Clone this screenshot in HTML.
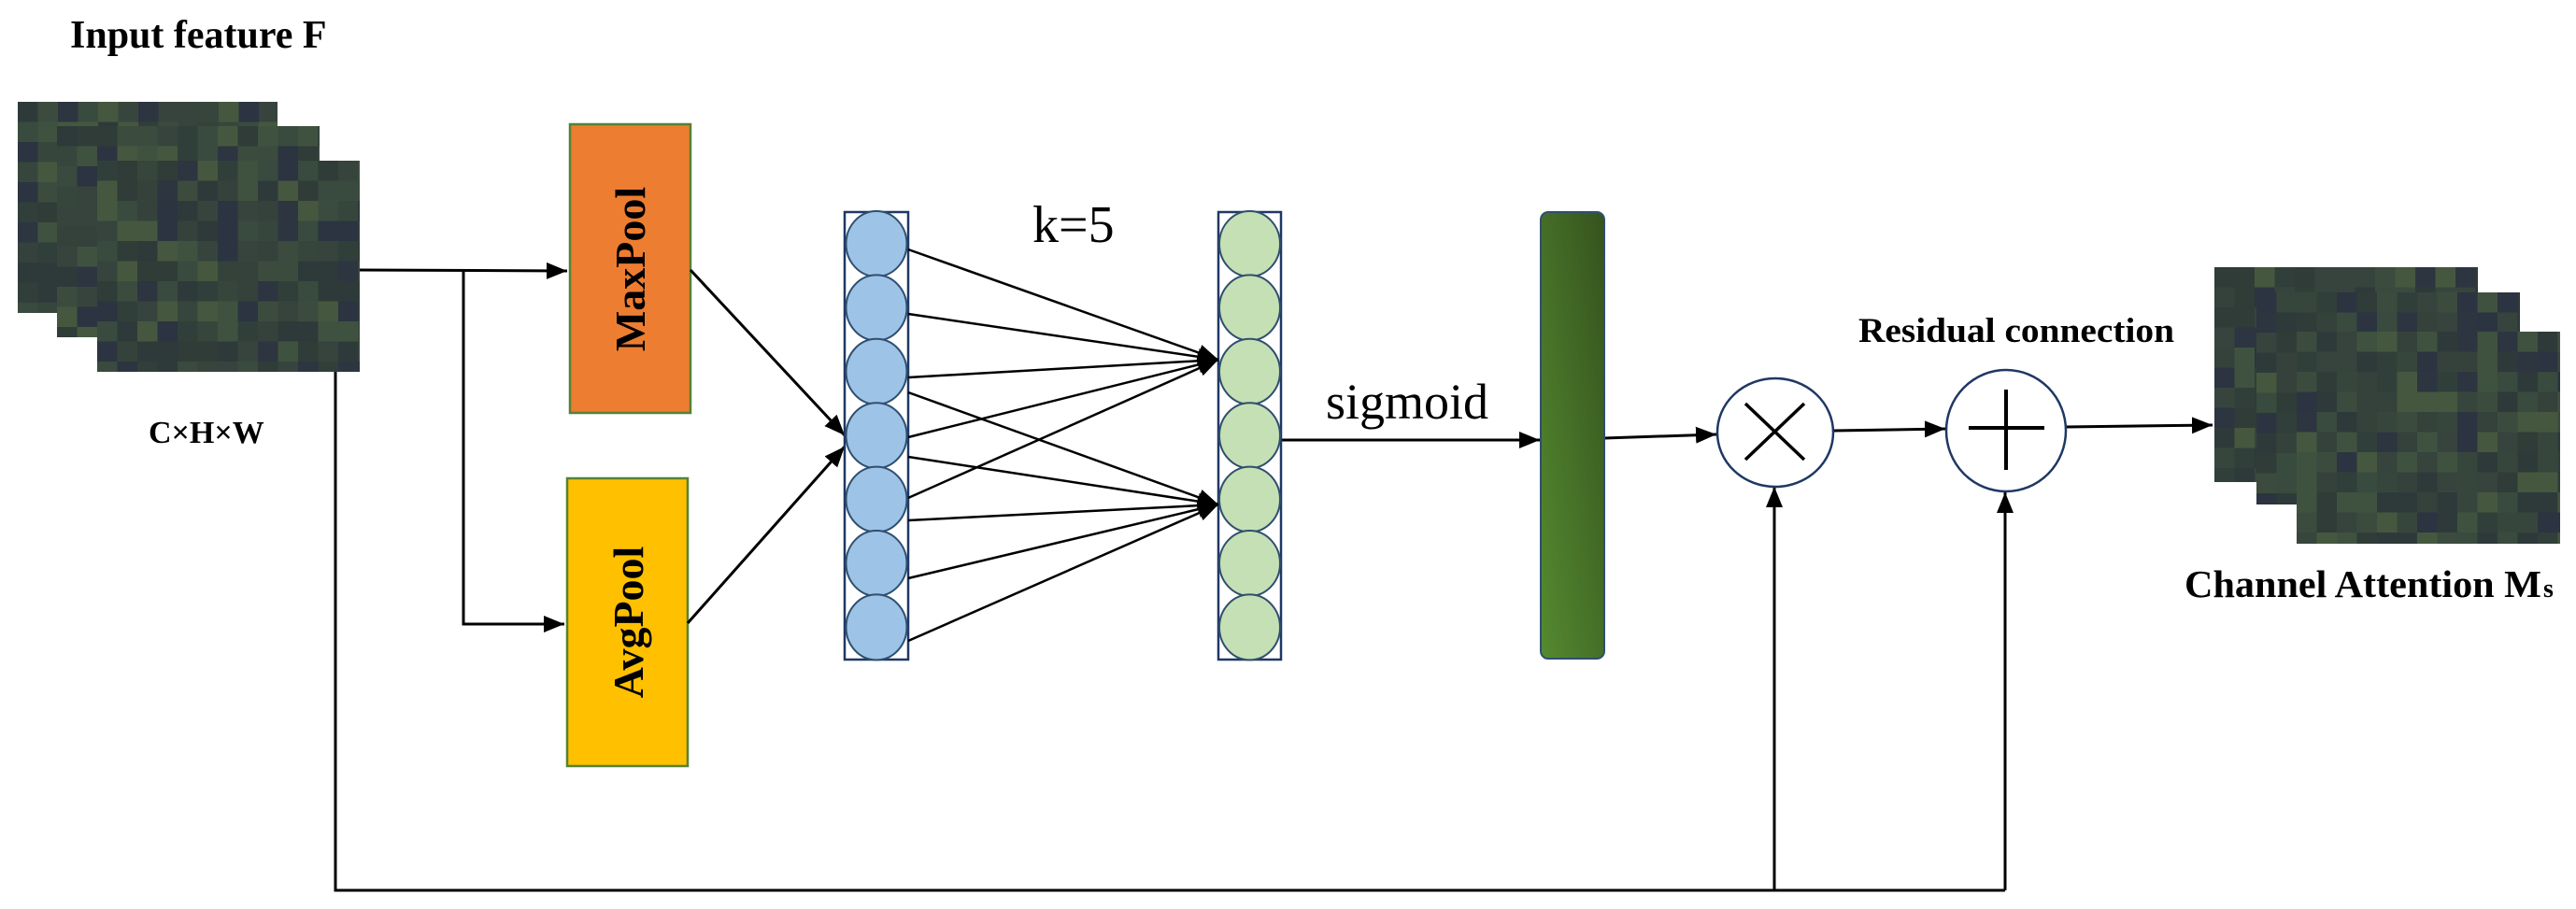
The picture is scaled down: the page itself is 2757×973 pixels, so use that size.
<!DOCTYPE html>
<html><head><meta charset="utf-8"><style>
html,body{margin:0;padding:0;background:#fff;}
svg{display:block;}
text{font-family:"Liberation Serif",serif;fill:#000;}
</style></head><body>
<svg id="s" width="2757" height="973" viewBox="0 0 2757 973" xmlns="http://www.w3.org/2000/svg">
<defs>
<marker id="ah" viewBox="0 0 10 10" refX="10" refY="5" markerWidth="22" markerHeight="18" markerUnits="userSpaceOnUse" orient="auto" preserveAspectRatio="none"><path d="M0,0 L10,5 L0,10 z" fill="#000"/></marker>
<linearGradient id="g" x1="0" y1="1" x2="1" y2="0"><stop offset="0" stop-color="#558a30"/><stop offset="1" stop-color="#35531e"/></linearGradient>
</defs>
<rect width="2757" height="973" fill="#fff"/>
<g id="mos"></g>
<text x="75" y="51" font-size="42" font-weight="bold">Input feature F</text>
<text x="159" y="474" font-size="34" font-weight="bold">C×H×W</text>
<text x="1105" y="259" font-size="56">k=5</text>
<text x="1419" y="448" font-size="54">sigmoid</text>
<text x="1989" y="366" font-size="37" font-weight="bold" textLength="338" lengthAdjust="spacingAndGlyphs">Residual connection</text>
<text x="2338" y="639" font-size="41" font-weight="bold" textLength="382" lengthAdjust="spacingAndGlyphs">Channel Attention M</text>
<text x="2722" y="639" font-size="28" font-weight="bold">s</text>
<rect x="610" y="133" width="129" height="309" fill="#ED7D31" stroke="#548235" stroke-width="2.5"/>
<rect x="607" y="512" width="129" height="308" fill="#FFC000" stroke="#548235" stroke-width="2.5"/>
<text transform="translate(690,288) rotate(-90)" text-anchor="middle" font-size="46" font-weight="bold">MaxPool</text>
<text transform="translate(688,666) rotate(-90)" text-anchor="middle" font-size="46" font-weight="bold">AvgPool</text>
<g stroke="#000" stroke-width="3" fill="none">
<line x1="385" y1="289" x2="607" y2="290" marker-end="url(#ah)"/>
<polyline points="496,289 496,668 604,668" marker-end="url(#ah)"/>
<line x1="739" y1="289" x2="904" y2="466" marker-end="url(#ah)"/>
<line x1="736" y1="667" x2="904" y2="478" marker-end="url(#ah)"/>
<polyline points="359,398 359,953 2146,953"/>
<line x1="1899" y1="953" x2="1899" y2="521" marker-end="url(#ah)"/>
<line x1="2146" y1="953" x2="2146" y2="527" marker-end="url(#ah)"/>
<line x1="1371" y1="471" x2="1648" y2="471" marker-end="url(#ah)"/>
<line x1="1717" y1="469" x2="1837" y2="465" marker-end="url(#ah)"/>
<line x1="1962" y1="461" x2="2082" y2="459" marker-end="url(#ah)"/>
<line x1="2211" y1="457" x2="2368" y2="455" marker-end="url(#ah)"/>
</g>
<rect x="904" y="227" width="68" height="479" fill="#fff" stroke="#1f3864" stroke-width="2.5"/>
<rect x="1304" y="227" width="67" height="479" fill="#fff" stroke="#1f3864" stroke-width="2.5"/>
<g id="circ" stroke="#2f4f6f" stroke-width="2"></g>
<g stroke="#000" stroke-width="2.5" fill="none">
<line x1="972" y1="267" x2="1304" y2="385" marker-end="url(#ah)"/>
<line x1="972" y1="336" x2="1304" y2="385" marker-end="url(#ah)"/>
<line x1="972" y1="404" x2="1304" y2="385" marker-end="url(#ah)"/>
<line x1="972" y1="468" x2="1304" y2="385" marker-end="url(#ah)"/>
<line x1="972" y1="533" x2="1304" y2="385" marker-end="url(#ah)"/>
<line x1="972" y1="420" x2="1304" y2="540" marker-end="url(#ah)"/>
<line x1="972" y1="489" x2="1304" y2="540" marker-end="url(#ah)"/>
<line x1="972" y1="557" x2="1304" y2="540" marker-end="url(#ah)"/>
<line x1="972" y1="619" x2="1304" y2="540" marker-end="url(#ah)"/>
<line x1="972" y1="686" x2="1304" y2="540" marker-end="url(#ah)"/>
</g>
<rect x="1649" y="227" width="68" height="478" rx="8" fill="url(#g)" stroke="#2f4f6f" stroke-width="2"/>
<ellipse cx="1900" cy="463" rx="62" ry="58" fill="#fff" stroke="#1f3864" stroke-width="2.5"/>
<g stroke="#000" stroke-width="3.5"><line x1="1868" y1="432" x2="1931" y2="492"/><line x1="1931" y1="432" x2="1868" y2="492"/></g>
<ellipse cx="2147" cy="461" rx="64" ry="65" fill="#fff" stroke="#1f3864" stroke-width="2.5"/>
<g stroke="#000" stroke-width="4"><line x1="2107" y1="458" x2="2188" y2="458"/><line x1="2147" y1="417" x2="2147" y2="503"/></g>
</svg>
<script>
(function(){
var NS="http://www.w3.org/2000/svg";
var c=document.getElementById("circ");
function col(x,fill){for(var i=0;i<7;i++){var e=document.createElementNS(NS,"ellipse");e.setAttribute("cx",x);e.setAttribute("cy",261+68.4*i);e.setAttribute("rx",32.5);e.setAttribute("ry",35);e.setAttribute("fill",fill);c.appendChild(e);}}
col(938,"#9dc3e6");col(1337.5,"#c5e0b4");
var seed=7;function r(){seed=(seed*16807)%2147483647;return (seed-1)/2147483646;}
var pal=["#2e3a3a","#34423b","#394a3e","#2c3540","#3f5240","#313f3a","#37463c","#2b3440","#45583f","#36443d","#303c37","#3b4c3e"];
var m=document.getElementById("mos");
function img(x,y,w,h){var cs=21.5;var nx=Math.ceil(w/cs),ny=Math.ceil(h/cs);
for(var j=0;j<ny;j++)for(var i=0;i<nx;i++){var rc=document.createElementNS(NS,"rect");var xx=x+i*cs,yy=y+j*cs;
rc.setAttribute("x",xx);rc.setAttribute("y",yy);rc.setAttribute("width",Math.min(cs+0.5,x+w-xx));rc.setAttribute("height",Math.min(cs+0.5,y+h-yy));
rc.setAttribute("fill",pal[Math.floor(r()*pal.length)]);m.appendChild(rc);}}
img(19,109,278,226);img(61,135,281,226);img(104,172,281,226);
img(2370,286,282,230);img(2415,313,282,227);img(2458,355,282,227);
})();
</script>
</body></html>
